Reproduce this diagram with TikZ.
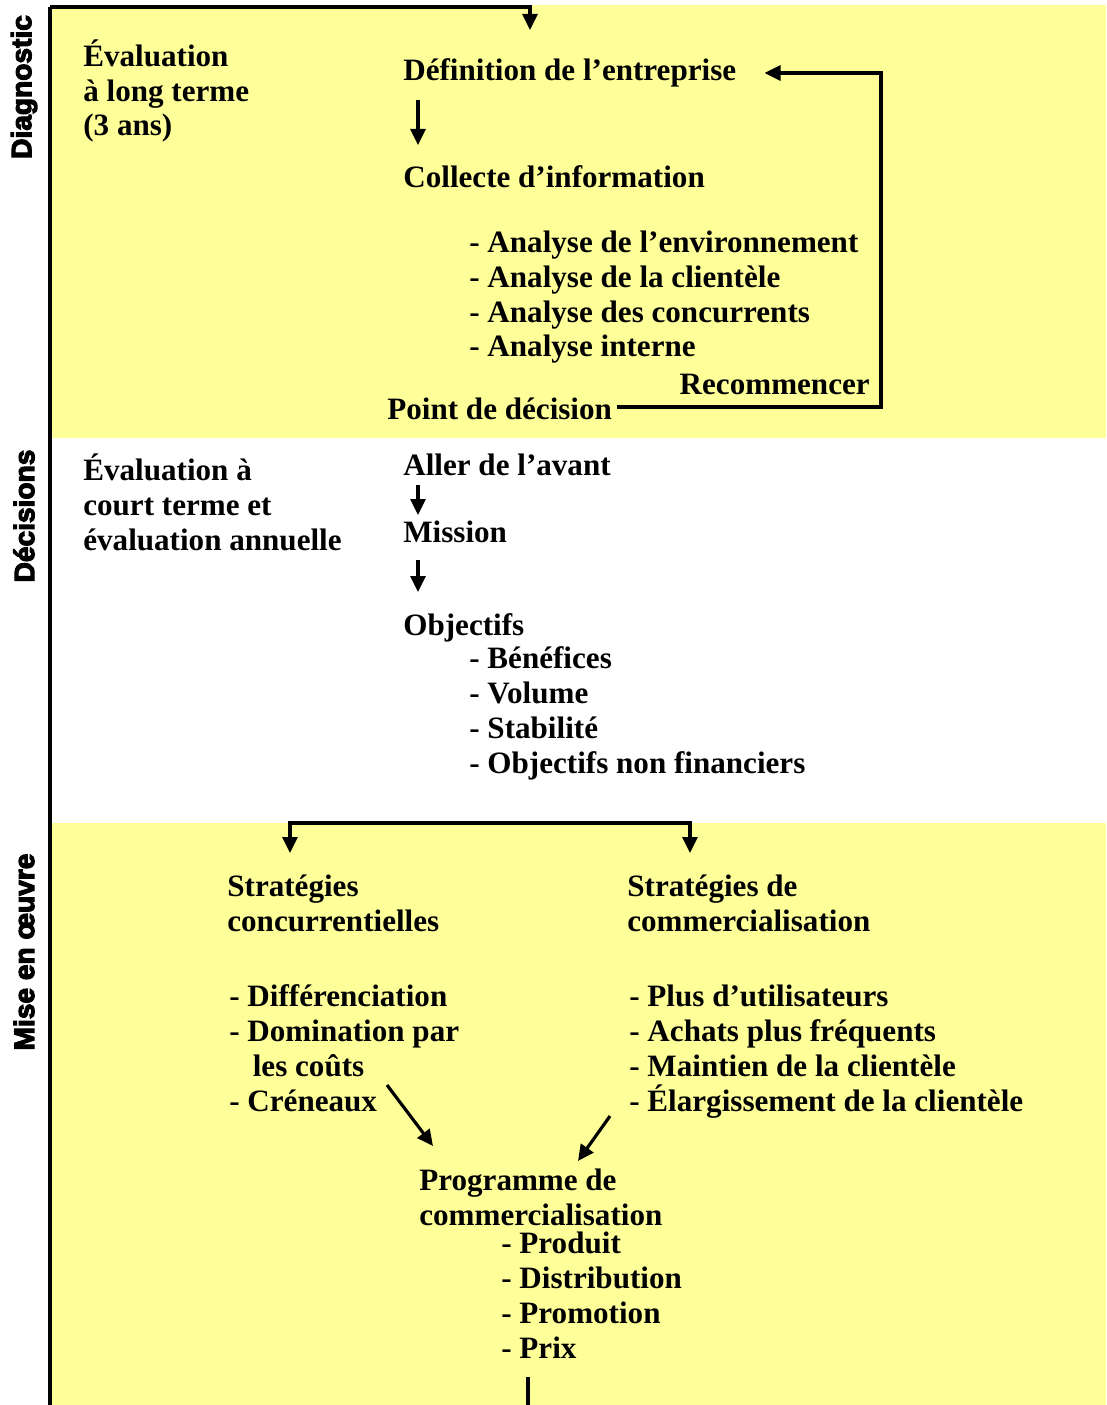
\documentclass[tikz,border=0pt]{standalone}
\usepackage{fontspec}
\setmainfont{Liberation Serif}
\newfontfamily\sidefont[FakeBold=4]{Liberation Sans Bold}
\usetikzlibrary{arrows.meta}
\definecolor{paleyellow}{RGB}{255,255,153}

\begin{document}
\begin{tikzpicture}[x=0.02cm, y=-0.02cm,
  txt/.style={anchor=base west, inner sep=0pt, align=left, font=\fontsize{17.7}{19.9}\selectfont\bfseries},
  side/.style={rotate=90, inner sep=0pt, font=\sidefont\fontsize{16}{18}\selectfont},
  lnk/.style={line width=1.8pt},
  arr/.style={lnk, -{Triangle[length=0.32cm, width=0.3cm]}},
  arrboth/.style={lnk, {Triangle[length=0.32cm, width=0.3cm]}-{Triangle[length=0.32cm, width=0.3cm]}}]

	\useasboundingbox (0,0) rectangle (1106,1405);

	% bands
	\fill[paleyellow] (52,5) rectangle (1106,438);
	\fill[paleyellow] (52,823) rectangle (1106,1405);

	% side titles
	\node[side] (diag) at (24,87) {Diagnostic};
	\node[side] (deci) at (24,516) {Décisions};
	\node[side] (mise) at (24,952) {Mise en œuvre};

	% Diagnostic (multi-line texts sit on their last baseline)
	\node[txt] (evlong) at (83,136) {Évaluation\\à long terme\\(3 ans)};
	\node[txt] (def) at (403,81) {Définition de l’entreprise};
	\node[txt] (coll) at (403,188) {Collecte d’information};
	\node[txt] (anal) at (469,357) {- Analyse de l’environnement\\- Analyse de la clientèle\\- Analyse des concurrents\\- Analyse interne};
	\node[txt, anchor=base east] (recom) at (870,395) {Recommencer};
	\node[txt] (pdec) at (387,419) {Point de décision};

	% Décisions
	\node[txt] (evcourt) at (83,550) {Évaluation à\\court terme et\\évaluation annuelle};
	\node[txt] (aller) at (403,475) {Aller de l’avant};
	\node[txt] (miss) at (403,542) {Mission};
	\node[txt] (obj) at (403,635) {Objectifs};
	\node[txt] (objlst) at (469,773) {- Bénéfices\\- Volume\\- Stabilité\\- Objectifs non financiers};

	% Mise en oeuvre
	\node[txt] (stconc) at (227,931) {Stratégies\\concurrentielles};
	\node[txt] (stcom) at (627,931) {Stratégies de\\commercialisation};
	\node[txt] (conclst) at (229,1111) {- Différenciation\\- Domination par\\\hspace*{0.47cm}les coûts\\- Créneaux};
	\node[txt] (comlst) at (629,1111) {- Plus d’utilisateurs\\- Achats plus fréquents\\- Maintien de la clientèle\\- Élargissement de la clientèle};
	\node[txt] (prog) at (419,1225) {Programme de\\commercialisation};
	\node[txt] (proglst) at (501,1358) {- Produit\\- Distribution\\- Promotion\\- Prix};

	% connectors
	\coordinate (top) at (50,7);
	\coordinate (loop) at (881,407);
	\draw[lnk] (top) -- (50,1405);
	\draw[arr] (top) -| ([shift={(127,-51)}]def.base west);
	\draw[arr] ([shift={(15,19)}]def.base west) -- ([shift={(15,-43)}]coll.base west);
	\draw[arr] ([shift={(5,-12)}]pdec.base east) -- (loop) |- ([shift={(28,-8)}]def.base east);
	\draw[arr] ([shift={(15,10)}]aller.base west) -- ([shift={(15,-27)}]miss.base west);
	\draw[arr] ([shift={(15,18)}]miss.base west) -- ([shift={(15,-43)}]obj.base west);
	\draw[arrboth] ([shift={(63,-78)}]stconc.base west) |- ([shift={(63,-108)}]stcom.base west) -- ([shift={(63,-78)}]stcom.base west);
	\draw[arr] ([shift={(158,-26)}]conclst.base west) -- ([shift={(14,-79)}]prog.base west);
	\draw[arr] ([shift={(-19,5)}]comlst.base west) -- ([shift={(159,-64)}]prog.base west);
	\draw[lnk] ([shift={(27,19)}]proglst.base west) -- ++(0,30);

\end{tikzpicture}
\end{document}
